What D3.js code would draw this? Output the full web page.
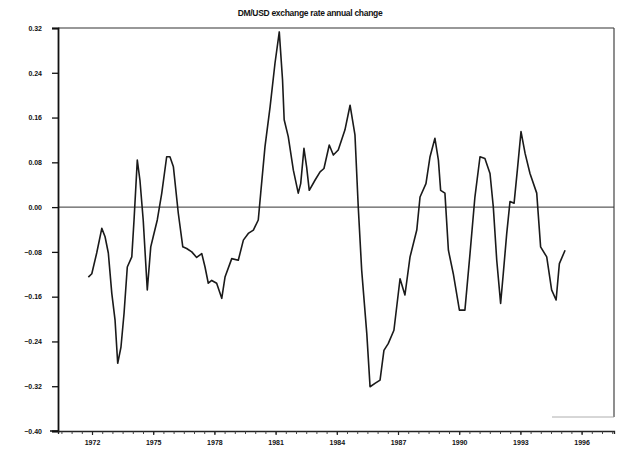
<!DOCTYPE html>
<html>
<head>
<meta charset="utf-8">
<script src="https://cdn.jsdelivr.net/npm/d3@7"></script>
<style>
  html, body { margin: 0; padding: 0; background: #fff; }
  svg { display: block; }
  text { font-family: "Liberation Sans", Arial, sans-serif; font-weight: bold; fill: #111; }
</style>
</head>
<body>
<svg id="chart" width="626" height="450"></svg>
<script>
// ---- data ----
const title = "DM/USD exchange rate annual change";
const years = [1971.82,1971.99,1972.23,1972.48,1972.64,1972.80,1972.97,1973.13,1973.26,1973.42,1973.57,1973.73,1973.95,
  1974.06,1974.22,1974.35,1974.51,1974.71,1974.88,1975.00,1975.20,1975.42,1975.66,1975.82,1975.99,1976.23,1976.45,1976.64,
  1976.89,1977.13,1977.38,1977.54,1977.70,1977.87,1978.11,1978.36,1978.52,1978.85,1979.17,1979.42,1979.66,1979.91,1980.15,
  1980.27,1980.48,1980.73,1980.97,1981.18,1981.34,1981.42,1981.62,1981.87,1982.11,1982.23,1982.39,1982.52,1982.65,1982.93,
  1983.18,1983.37,1983.63,1983.83,1984.07,1984.40,1984.65,1984.89,1985.05,1985.22,1985.47,1985.63,1985.87,1986.12,1986.31,
  1986.52,1986.80,1987.10,1987.34,1987.59,1987.92,1988.08,1988.37,1988.57,1988.81,1988.98,1989.09,1989.30,1989.47,1989.71,
  1990.01,1990.28,1990.53,1990.77,1991.02,1991.26,1991.51,1991.67,1991.84,1992.03,1992.16,1992.33,1992.49,1992.69,1992.85,
  1993.03,1993.23,1993.47,1993.80,1993.99,1994.29,1994.53,1994.75,1994.91,1995.19];
const changes = [-0.125,-0.119,-0.082,-0.038,-0.053,-0.082,-0.154,-0.202,-0.279,-0.250,-0.190,-0.107,-0.089,
  -0.023,0.084,0.048,-0.023,-0.148,-0.071,-0.053,-0.023,0.025,0.090,0.090,0.072,-0.011,-0.071,-0.074,
  -0.080,-0.090,-0.083,-0.107,-0.136,-0.131,-0.136,-0.163,-0.125,-0.092,-0.095,-0.059,-0.047,-0.041,-0.023,
  0.025,0.108,0.179,0.257,0.313,0.227,0.156,0.126,0.066,0.025,0.042,0.105,0.072,0.030,0.048,
  0.063,0.069,0.111,0.093,0.102,0.138,0.182,0.129,0.001,-0.113,-0.226,-0.321,-0.315,-0.309,-0.256,
  -0.244,-0.220,-0.128,-0.157,-0.089,-0.041,0.018,0.042,0.090,0.123,0.084,0.030,0.025,-0.077,-0.119,
  -0.184,-0.184,-0.083,0.018,0.090,0.087,0.060,0.001,-0.095,-0.172,-0.119,-0.047,0.010,0.007,0.066,
  0.135,0.096,0.060,0.025,-0.071,-0.089,-0.148,-0.166,-0.101,-0.077];
const xTickLabels = [1972,1975,1978,1981,1984,1987,1990,1993,1996];
const yTickValues = [0.32,0.24,0.16,0.08,0.00,-0.08,-0.16,-0.24,-0.32,-0.40];

// ---- layout ----
const svg = d3.select("#chart");
const L = 58, R = 614, T = 28, B = 431;
const x = d3.scaleLinear().domain([1970.333, 1997.588]).range([L, R]);
const y = d3.scaleLinear().domain([-0.40, 0.32]).range([B, T]);

// title
svg.append("text").attr("x", 310).attr("y", 16).attr("text-anchor", "middle")
  .attr("font-size", 8.5).style("letter-spacing", "-0.3px").text(title);

// frame (top and right)
svg.append("line").attr("x1", L).attr("x2", R).attr("y1", T).attr("y2", T)
  .attr("stroke", "#333").attr("stroke-width", 1.2);
svg.append("line").attr("x1", R).attr("x2", R).attr("y1", T).attr("y2", B - 14)
  .attr("stroke", "#444").attr("stroke-width", 1.2);
svg.append("line").attr("x1", R - 62).attr("x2", R).attr("y1", B - 14).attr("y2", B - 14)
  .attr("stroke", "#999").attr("stroke-width", 0.8);

// zero line
svg.append("line").attr("x1", L).attr("x2", R).attr("y1", y(0)).attr("y2", y(0))
  .attr("stroke", "#333").attr("stroke-width", 1);

// y axis
const yAxis = d3.axisLeft(y).tickValues(yTickValues).tickSize(6).tickPadding(10)
  .tickFormat(d3.format(".2f"));
const gy = svg.append("g").attr("transform", `translate(${L},0)`).call(yAxis);
gy.select(".domain").attr("stroke", "#111").attr("stroke-width", 1.8);
gy.selectAll(".tick line").attr("stroke", "#111").attr("stroke-width", 1.3);
gy.selectAll(".tick text").attr("font-size", 7).attr("font-weight", "bold")
  .style("font-family", "'Liberation Sans', Arial, sans-serif").attr("fill", "#111");

// x axis: minor half-year ticks + labelled ticks
const minor = d3.range(1970.5, 1997.6, 0.5);
const gxMinor = svg.append("g").attr("transform", `translate(0,${B})`)
  .call(d3.axisBottom(x).tickValues(minor).tickSize(3).tickFormat(""));
gxMinor.select(".domain").attr("stroke", "#222").attr("stroke-width", 1.3);
gxMinor.selectAll(".tick line").attr("stroke", "#333").attr("stroke-width", 0.9);
const gx = svg.append("g").attr("transform", `translate(0,${B})`)
  .call(d3.axisBottom(x).tickValues(xTickLabels).tickSize(4).tickPadding(5).tickFormat(d3.format("d")));
gx.select(".domain").remove();
gx.selectAll(".tick line").attr("stroke", "#222").attr("stroke-width", 1.2);
gx.selectAll(".tick text").attr("font-size", 7).attr("font-weight", "bold")
  .style("font-family", "'Liberation Sans', Arial, sans-serif").attr("fill", "#111");

// left extension of bottom axis
svg.append("line").attr("x1", L - 8).attr("x2", L).attr("y1", B).attr("y2", B)
  .attr("stroke", "#111").attr("stroke-width", 1.5);

// series line
const pts = years.map((yr, i) => [yr, changes[i]]);
svg.append("path").datum(pts)
  .attr("fill", "none").attr("stroke", "#1a1a1a").attr("stroke-width", 1.6)
  .attr("stroke-linejoin", "round")
  .attr("d", d3.line().x(d => x(d[0])).y(d => y(d[1])));
</script>
</body>
</html>
